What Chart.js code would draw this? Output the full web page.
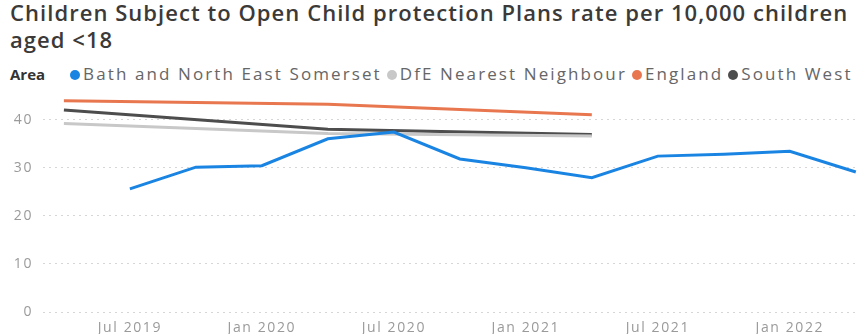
<!DOCTYPE html>
<html>
<head>
<meta charset="utf-8">
<script src="https://cdn.jsdelivr.net/npm/chart.js@4.4.1/dist/chart.umd.min.js"></script>
<style>
  body { margin: 0; background: #fff; width: 858px; height: 334px; overflow: hidden; position: relative; font-family: "Open Sans", sans-serif; }
  #title { position: absolute; left: 10px; top: -1px; font-size: 22px; line-height: 27px; font-weight: 600; color: #3b3a39; letter-spacing: 1.05px; white-space: nowrap; }
  #legend { position: absolute; left: 10px; top: 63px; font-size: 17px; line-height: 22px; color: #666; white-space: nowrap; letter-spacing: 2.1px; }
  #legend b { color: #333; font-size: 15px; letter-spacing: 0; margin-right: 25px; }
  #legend .item { margin-right: 5px; }
  #legend .dot { display: inline-block; width: 10px; height: 10px; border-radius: 50%; margin-right: 3px; vertical-align: 0px; }
  #chart { position: absolute; left: 0; top: 88px; }
</style>
</head>
<body>
<div id="title">Children Subject to Open Child protection Plans rate per 10,000 children<br>aged &lt;18</div>
<div id="legend"></div>
<canvas id="chart" width="858" height="246"></canvas>
<script>
// months counted from Jan 2019 (0)
const quarterMonths = [6, 9, 12, 15, 18, 21, 24, 27, 30, 33, 36, 39];
const yearMonths = [3, 15, 27];

const bathValues = [25.6, 30.1, 30.4, 36.0, 37.4, 31.8, 30.0, 27.9, 32.4, 32.8, 33.4, 29.1];
const dfeValues = [39.2, 37.1, 36.6];
const englandValues = [43.9, 43.2, 41.0];
const southWestValues = [42.0, 38.0, 36.9];

const tickMonths = [6, 12, 18, 24, 30, 36];
const tickLabels = ['Jul 2019', 'Jan 2020', 'Jul 2020', 'Jan 2021', 'Jul 2021', 'Jan 2022'];

const seriesNames = ['Bath and North East Somerset', 'DfE Nearest Neighbour', 'England', 'South West'];
const seriesColors = ['#1a84e3', '#c8c8c8', '#e8774f', '#4d4d4d'];

function toPoints(months, values) {
  return months.map((m, i) => ({ x: m, y: values[i] }));
}

// html legend
const legend = document.getElementById('legend');
legend.innerHTML = '<b>Area</b>' + seriesNames
  .map((name, i) => `<span class="item"><span class="dot" style="background:${seriesColors[i]}"></span>${name}</span>`)
  .join('');

const seriesData = [
  toPoints(quarterMonths, bathValues),
  toPoints(yearMonths, dfeValues),
  toPoints(yearMonths, englandValues),
  toPoints(yearMonths, southWestValues)
];

// wider tick text, like the reference
const spacedText = {
  id: 'spacedText',
  beforeDraw(chart) { chart.ctx.letterSpacing = '1.6px'; }
};

// no extra room for edge labels
function noEdgePadding(scale) {
  scale.paddingTop = 0;
  scale.paddingBottom = 0;
  scale.paddingLeft = 0;
  scale.paddingRight = 0;
}

const ctx = document.getElementById('chart').getContext('2d');
new Chart(ctx, {
  type: 'line',
  data: {
    datasets: seriesNames.map((name, i) => ({
      label: name,
      data: seriesData[i],
      borderColor: seriesColors[i],
      backgroundColor: seriesColors[i],
      borderWidth: 3,
      pointRadius: 0,
      tension: 0
    }))
  },
  plugins: [spacedText],
  options: {
    responsive: false,
    animation: false,
    layout: { padding: { top: 7.5, right: 0, left: 0, bottom: 0 } },
    plugins: { legend: { display: false }, tooltip: { enabled: false } },
    scales: {
      x: {
        type: 'linear',
        min: 2.05,
        max: 39.1,
        afterBuildTicks: scale => { scale.ticks = tickMonths.map(v => ({ value: v })); },
        afterFit: scale => { scale.height = 22; noEdgePadding(scale); },
        ticks: {
          autoSkip: false,
          maxRotation: 0,
          padding: 0,
          color: '#9a9a9a',
          font: { family: 'Open Sans', size: 14 },
          callback: value => tickLabels[tickMonths.indexOf(value)] || ''
        },
        grid: { display: false },
        border: { display: false }
      },
      y: {
        min: 0,
        max: 45,
        afterBuildTicks: scale => { scale.ticks = scale.ticks.filter(t => t.value % 10 === 0); },
        afterFit: scale => { scale.width = 43; noEdgePadding(scale); },
        ticks: {
          stepSize: 10,
          padding: 10,
          color: '#9a9a9a',
          font: { family: 'Open Sans', size: 14 }
        },
        grid: { color: '#d6d6d6', lineWidth: 1, drawTicks: false },
        border: { display: false, dash: [2, 4] }
      }
    }
  }
});
</script>
</body>
</html>
